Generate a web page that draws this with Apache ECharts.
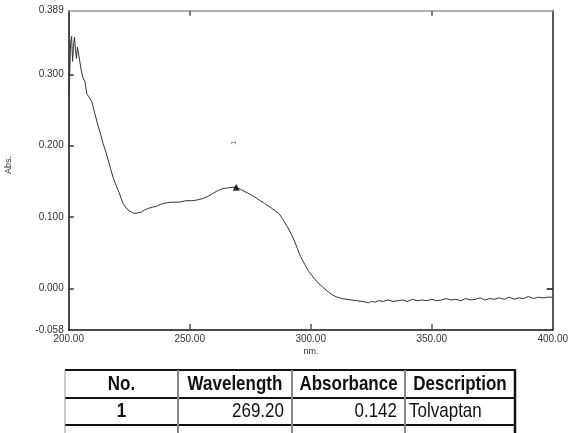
<!DOCTYPE html>
<html>
<head>
<meta charset="utf-8">
<script src="https://cdn.jsdelivr.net/npm/echarts@6/dist/echarts.min.js"></script>
<style>
  html, body { margin: 0; padding: 0; background: #fff; }
  #main { width: 571px; height: 433px; }
</style>
</head>
<body>
<div id="main"></div>
<script>
// 光谱数据 (nm, Abs.)
const wavelengths = [
  200.0, 200.4, 200.8, 201.2, 201.6, 202.0, 202.4, 202.8, 203.2, 203.6,
  204.0, 204.6, 205.2, 205.9, 206.7, 207.5, 208.5, 209.5, 210.8, 212.2,
  213.2, 214.2, 215.3, 216.3, 217.3, 218.3, 219.4, 220.4, 221.5, 222.5,
  223.5, 224.5, 226.0, 227.3, 228.5, 230.0, 231.3, 232.7, 234.5, 236.2,
  238.0, 240.3, 243.0, 245.8, 248.5, 251.0, 253.0, 255.4, 257.5, 259.5,
  261.5, 263.6, 266.0, 268.4, 269.2, 271.0, 273.2, 276.0, 278.7, 281.0,
  284.1, 286.9, 288.5, 290.3, 292.0, 293.1, 294.5, 295.8, 297.5, 299.2,
  301.0, 303.3, 305.0, 307.4, 309.0, 310.9, 313.0, 315.0, 317.0, 319.0,
  321.2, 323.0, 323.9, 325.0, 326.5, 328.0, 330.0, 332.0, 334.0, 336.0,
  338.0, 340.0, 342.0, 344.0, 346.0, 348.0, 350.0, 352.0, 354.0, 356.0,
  358.0, 360.0, 362.0, 364.0, 366.0, 368.0, 370.0, 372.0, 374.0, 376.0,
  378.0, 380.0, 382.0, 384.0, 386.0, 388.0, 390.0, 392.0, 394.0, 396.0,
  398.0, 400.0
];
const absorbance = [
  0.272, 0.300, 0.345, 0.353, 0.318, 0.340, 0.352, 0.335, 0.322, 0.338,
  0.330, 0.318, 0.305, 0.295, 0.290, 0.272, 0.268, 0.262, 0.245, 0.227,
  0.216, 0.203, 0.192, 0.180, 0.168, 0.156, 0.146, 0.138, 0.128, 0.119,
  0.114, 0.110, 0.107, 0.105, 0.106, 0.107, 0.110, 0.112, 0.114, 0.115,
  0.118, 0.120, 0.121, 0.121, 0.123, 0.123, 0.124, 0.126, 0.129, 0.133,
  0.137, 0.140, 0.141, 0.142, 0.142, 0.139, 0.135, 0.130, 0.124, 0.119,
  0.112, 0.105, 0.097, 0.087, 0.076, 0.068, 0.056, 0.045, 0.034, 0.024,
  0.016, 0.007, 0.002, -0.005, -0.009, -0.012, -0.014, -0.015, -0.016, -0.017,
  -0.018, -0.019, -0.020, -0.018, -0.019, -0.017, -0.018, -0.016, -0.018, -0.017,
  -0.016, -0.018, -0.015, -0.017, -0.016, -0.017, -0.015, -0.017, -0.016, -0.014,
  -0.016, -0.015, -0.017, -0.014, -0.016, -0.015, -0.013, -0.016, -0.014, -0.015,
  -0.013, -0.015, -0.012, -0.015, -0.013, -0.014, -0.011, -0.014, -0.012, -0.013,
  -0.012, -0.012
];
// 峰值
const peak = [269.2, 0.142];
const peakLabelPos = [268.2, 0.204];
// 坐标轴刻度
const yLabelValues = [-0.058, 0.0, 0.1, 0.2, 0.3, 0.389];
const yTickValues = [0.0, 0.1, 0.2, 0.3];
const xTickValues = [250, 300, 350];
const topTickValues = [250, 350];
const rightTickValues = [0.0];
// 表格
const tableHeader = ['No.', 'Wavelength', 'Absorbance', 'Description'];
const tableRow = ['1', '269.20', '0.142', 'Tolvaptan'];

const font = 'Liberation Sans, Arial, sans-serif';
const chart = echarts.init(document.getElementById('main'));

const colX = [65, 178, 292, 405, 515];
const rowY = [370, 398, 425];

const graphics = [];
// 表格横线
rowY.forEach(function (y) {
  graphics.push({
    type: 'line', shape: { x1: colX[0], y1: y, x2: colX[4] + 1, y2: y },
    style: { stroke: '#111', lineWidth: 2 }
  });
});
// 表格竖线
colX.forEach(function (x, i) {
  graphics.push({
    type: 'line', shape: { x1: x, y1: rowY[0], x2: x, y2: 433 },
    style: { stroke: i === 4 ? '#111' : (i === 0 ? '#999' : '#888'), lineWidth: i === 4 ? 2.5 : (i === 0 ? 1 : 2) }
  });
});
// 表头
tableHeader.forEach(function (t, i) {
  graphics.push({
    type: 'text', x: (colX[i] + colX[i + 1]) / 2, y: 384, scaleY: 1.2,
    style: { text: t, font: 'bold 17px ' + font, fill: '#111', align: 'center', verticalAlign: 'middle' }
  });
});
// 数据行
const rowAlign = ['center', 'right', 'right', 'left'];
tableRow.forEach(function (t, i) {
  let x;
  if (rowAlign[i] === 'center') x = (colX[i] + colX[i + 1]) / 2;
  else if (rowAlign[i] === 'right') x = colX[i + 1] - 8;
  else x = colX[i] + 4;
  graphics.push({
    type: 'text', x: x, y: 411.5, scaleY: 1.2,
    style: { text: t, font: (i === 0 ? 'bold ' : '') + '17px ' + font, fill: '#111', align: rowAlign[i], verticalAlign: 'middle' }
  });
});
// 轴名
graphics.push({
  type: 'text', x: 9, y: 165, rotation: Math.PI / 2,
  style: { text: 'Abs.', font: '9px ' + font, fill: '#333', align: 'center', verticalAlign: 'middle' }
});
graphics.push({
  type: 'text', x: 311, y: 352,
  style: { text: 'nm.', font: '9px ' + font, fill: '#333', align: 'center', verticalAlign: 'middle' }
});

const option = {
  animation: false,
  grid: { left: 68.7, right: 16, top: 10.7, bottom: 103 },
  xAxis: [
    {
      type: 'value', min: 200, max: 400, interval: 50,
      axisLine: { onZero: false, lineStyle: { color: '#111', width: 1.5 } },
      axisTick: { inside: true, length: 6, lineStyle: { color: '#555', width: 1.5 }, customValues: xTickValues },
      axisLabel: {
        color: '#333', fontSize: 10, fontFamily: font, margin: 4,
        formatter: function (v) { return v.toFixed(2); }
      },
      splitLine: { show: false }
    },
    {
      type: 'value', position: 'top', min: 200, max: 400, interval: 50,
      axisLine: { show: true, onZero: false, lineStyle: { color: '#999', width: 1.5 } },
      axisTick: { show: true, inside: true, length: 5, lineStyle: { color: '#555', width: 1.5 }, customValues: topTickValues },
      axisLabel: { show: false },
      splitLine: { show: false }
    }
  ],
  yAxis: [
    {
      type: 'value', min: -0.058, max: 0.389,
      axisLine: { show: true, onZero: false, lineStyle: { color: '#111', width: 1.5 } },
      axisTick: { show: true, inside: true, length: 5, lineStyle: { color: '#333', width: 1.5 }, customValues: yTickValues },
      axisLabel: {
        color: '#333', fontSize: 10, fontFamily: font, margin: 5,
        customValues: yLabelValues,
        formatter: function (v) { return v.toFixed(3); }
      },
      splitLine: { show: false }
    },
    {
      type: 'value', position: 'right', min: -0.058, max: 0.389,
      axisLine: { show: true, onZero: false, lineStyle: { color: '#222', width: 1.5 } },
      axisTick: { show: true, inside: true, length: 6, lineStyle: { color: '#111', width: 1.5 }, customValues: rightTickValues },
      axisLabel: { show: false },
      splitLine: { show: false }
    }
  ],
  series: [
    {
      type: 'line',
      data: wavelengths.map(function (w, i) { return [w, absorbance[i]]; }),
      showSymbol: false,
      lineStyle: { color: '#333', width: 1 },
      z: 3
    },
    {
      type: 'scatter',
      data: [peak],
      symbol: 'triangle', symbolSize: 7,
      itemStyle: { color: '#000' },
      z: 4
    },
    {
      type: 'scatter',
      data: [peakLabelPos],
      symbolSize: 0,
      label: {
        show: true, position: 'inside', formatter: '1', rotate: 90,
        fontSize: 8, color: '#555', fontFamily: font
      }
    }
  ],
  graphic: graphics
};

chart.setOption(option);
</script>
</body>
</html>
